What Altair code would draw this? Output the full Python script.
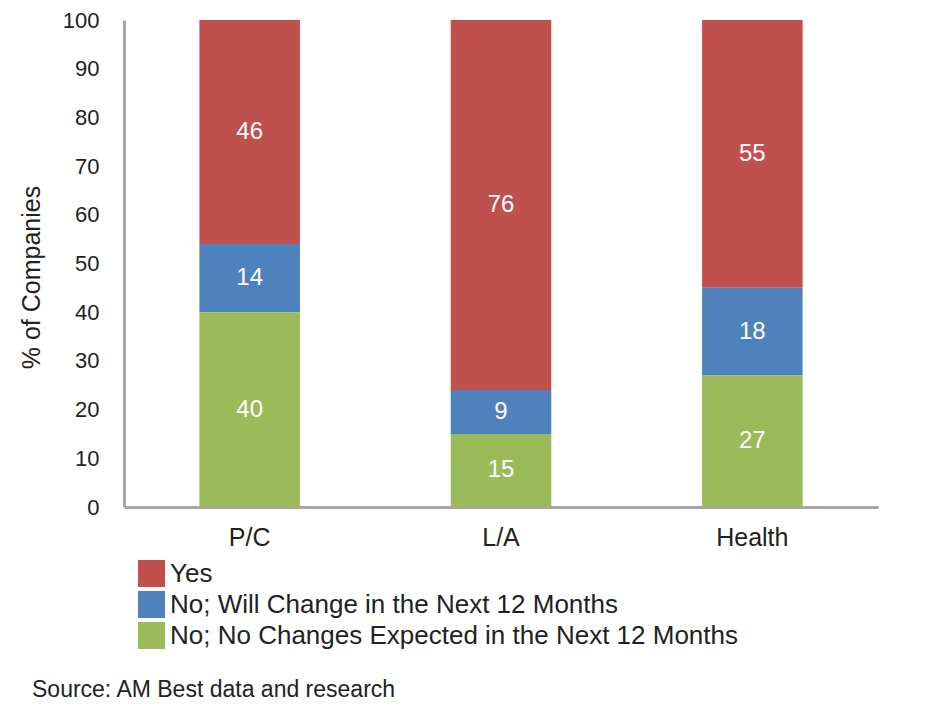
import altair as alt
import pandas as pd

categories = ["P/C", "L/A", "Health"]
series = [
    "Yes",
    "No; Will Change in the Next 12 Months",
    "No; No Changes Expected in the Next 12 Months",
]
yes_vals = [46, 76, 55]
will_change_vals = [14, 9, 18]
no_change_vals = [40, 15, 27]
stack_order = [2, 1, 0]
colors = ["#C0504D", "#4F81BD", "#9BBB59"]
source_note = "Source: AM Best data and research"

rows = []
for i, c in enumerate(categories):
    for s, vals, o in zip(series, [yes_vals, will_change_vals, no_change_vals], stack_order):
        rows.append({"category": c, "series": s, "value": vals[i], "order": o})
df = pd.DataFrame(rows)

FONT = "Liberation Sans"
TXT = "#222222"

base = alt.Chart(df).transform_stack(
    stack="value",
    groupby=["category"],
    sort=[alt.SortField("order", order="ascending")],
    as_=["y0", "y1"],
).transform_calculate(mid="(datum.y0 + datum.y1) / 2")

x_enc = alt.X(
    "category:N",
    sort=categories,
    scale=alt.Scale(paddingInner=0.6, paddingOuter=0.3),
    axis=alt.Axis(
        title=None,
        labelAngle=0,
        labelFontSize=25,
        labelFont=FONT,
        labelColor=TXT,
        labelPadding=18,
        ticks=False,
        tickSize=0,
        domainColor="#A6A6A6",
        domainWidth=3,
        grid=False,
    ),
)

y_scale = alt.Scale(domain=[0, 100], nice=False)

bars = base.mark_bar().encode(
    x=x_enc,
    y=alt.Y(
        "y0:Q",
        scale=y_scale,
        axis=alt.Axis(
            values=list(range(0, 101, 10)),
            title="% of Companies",
            titleFontSize=25,
            titleFont=FONT,
            titleFontWeight="normal",
            titleColor=TXT,
            titlePadding=18,
            titleY=257,
            labelFontSize=22,
            labelFont=FONT,
            labelColor=TXT,
            labelPadding=25,
            ticks=False,
            tickSize=0,
            domainColor="#A6A6A6",
            domainWidth=3,
            grid=False,
        ),
    ),
    y2="y1:Q",
    color=alt.Color(
        "series:N",
        scale=alt.Scale(domain=series, range=colors),
        legend=alt.Legend(
            title=None,
            orient="none",
            legendX=14,
            legendY=540,
            direction="vertical",
            symbolType="square",
            symbolSize=729,
            symbolStrokeWidth=0,
            symbolOpacity=1,
            labelFontSize=26,
            labelFont=FONT,
            labelColor=TXT,
            labelOffset=5,
            rowPadding=4,
            padding=0,
            labelLimit=800,
        ),
    ),
)

labels = base.mark_text(
    color="white", fontSize=24, font=FONT, baseline="middle", align="center"
).encode(
    x=alt.X("category:N", sort=categories),
    y=alt.Y("mid:Q", scale=y_scale),
    text=alt.Text("value:Q"),
)

src_df = pd.DataFrame({"note": [source_note]})
source = alt.Chart(src_df).mark_text(
    align="left", baseline="middle", fontSize=23, font=FONT, color=TXT
).encode(
    x=alt.value(-92),
    y=alt.value(670),
    text="note:N",
)

chart = alt.layer(bars, labels, source).properties(
    width=754,
    height=487,
    autosize=alt.AutoSizeParams(type="none"),
    padding={"left": 124, "top": 20, "right": 70, "bottom": 213},
).configure_view(stroke=None)

chart.save("out.html", embed_options={"renderer": "svg", "actions": False})
